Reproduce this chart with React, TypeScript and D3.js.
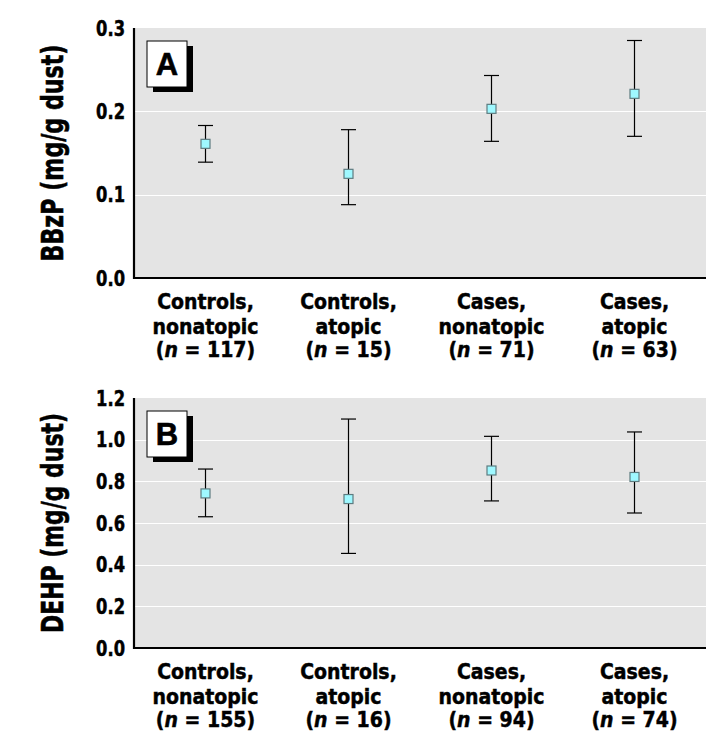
import * as d3 from "d3";
import { useEffect, useRef } from "react";

// Group labels (3 lines each: group, atopy, n)
const groups = ["Controls,", "Controls,", "Cases,", "Cases,"];
const atopy = ["nonatopic", "atopic", "nonatopic", "atopic"];
const nA = [117, 15, 71, 63];
const nB = [155, 16, 94, 74];

// Panel A: BBzP geometric mean and 95% CI
const bbzpMean = [0.161, 0.125, 0.203, 0.221];
const bbzpLow = [0.139, 0.088, 0.164, 0.17];
const bbzpHigh = [0.183, 0.178, 0.243, 0.285];
const bbzpTicks = [0, 0.1, 0.2, 0.3];

// Panel B: DEHP
const dehpMean = [0.742, 0.715, 0.852, 0.821];
const dehpLow = [0.63, 0.454, 0.706, 0.648];
const dehpHigh = [0.859, 1.099, 1.016, 1.037];
const dehpTicks = [0, 0.2, 0.4, 0.6, 0.8, 1.0, 1.2];

const FONT = "'DejaVu Sans', sans-serif";

const App = () => {
  const svgRef = useRef(null);

  useEffect(() => {
    if (!svgRef.current) return;
    const svg = d3.select(svgRef.current);
    svg.selectAll("*").remove();

    const marginLeft = 134;
    const plotRight = 706;

    const panels = [
      { top: 28, bottom: 278, letter: "A", title: "BBzP (mg/g dust)", mean: bbzpMean, low: bbzpLow, high: bbzpHigh, ticks: bbzpTicks, max: 0.3, n: nA, titleLen: 217 },
      { top: 398, bottom: 648, letter: "B", title: "DEHP (mg/g dust)", mean: dehpMean, low: dehpLow, high: dehpHigh, ticks: dehpTicks, max: 1.2, n: nB, titleLen: 220 },
    ];

    const x = d3
      .scaleBand()
      .domain(d3.range(groups.length).map(String))
      .range([marginLeft, plotRight]);

    panels.forEach((p) => {
      const y = d3.scaleLinear().domain([0, p.max]).range([p.bottom, p.top]);
      const g = svg.append("g");

      // background
      g.append("rect")
        .attr("x", marginLeft)
        .attr("y", p.top)
        .attr("width", plotRight - marginLeft)
        .attr("height", p.bottom - p.top)
        .attr("fill", "#e4e4e4");

      // grid lines
      g.selectAll("line.grid")
        .data(p.ticks.filter((t) => t > 0 && t < p.max))
        .enter()
        .append("line")
        .attr("x1", marginLeft)
        .attr("x2", plotRight)
        .attr("y1", (d) => Math.round(y(d)) + 0.5)
        .attr("y2", (d) => Math.round(y(d)) + 0.5)
        .attr("stroke", "#ffffff")
        .attr("stroke-width", 1);

      // axes
      g.append("path")
        .attr("d", `M${marginLeft},${p.top}V${p.bottom}H${plotRight}`)
        .attr("fill", "none")
        .attr("stroke", "#000")
        .attr("stroke-width", 2.2);

      // tick labels (squeezed to look like a condensed face)
      g.selectAll("g.tick")
        .data(p.ticks)
        .enter()
        .append("g")
        .attr("transform", (d) => `translate(125,${y(d)}) scale(0.76,1)`)
        .append("text")
        .attr("dy", "0.36em")
        .attr("text-anchor", "end")
        .attr("font-family", FONT)
        .attr("font-weight", "bold")
        .attr("font-size", 21.5)
        .attr("stroke", "#000")
        .attr("stroke-width", 0.5)
        .text((d) => d.toFixed(1));

      // y title, squeezed to the reference length
      const cy = (p.top + p.bottom) / 2;
      const titleG = g.append("g");
      const title = titleG
        .append("text")
        .attr("text-anchor", "middle")
        .attr("font-family", FONT)
        .attr("font-weight", "bold")
        .attr("font-size", 30)
        .attr("stroke", "#000")
        .attr("stroke-width", 0.6)
        .text(p.title);
      const natural = title.node().getComputedTextLength() || p.titleLen;
      titleG.attr("transform", `translate(63,${cy}) rotate(-90) scale(${p.titleLen / natural},1)`);

      // panel letter box with shadow
      const bx = 147;
      const by = p.top + 13;
      g.append("rect").attr("x", bx + 6).attr("y", by + 5).attr("width", 40).attr("height", 46).attr("fill", "#000");
      g.append("rect")
        .attr("x", bx)
        .attr("y", by)
        .attr("width", 40)
        .attr("height", 46)
        .attr("fill", "#fff")
        .attr("stroke", "#000")
        .attr("stroke-width", 1);
      g.append("text")
        .attr("x", bx + 20)
        .attr("y", by + 34)
        .attr("text-anchor", "middle")
        .attr("font-family", "'Liberation Sans', Arial, sans-serif")
        .attr("font-weight", "bold")
        .attr("font-size", 31)
        .attr("stroke", "#000")
        .attr("stroke-width", 0.6)
        .text(p.letter);

      // error bars
      const cx = (i) => x(String(i)) + x.bandwidth() / 2;
      const bars = g.selectAll("g.bar").data(p.mean).enter().append("g");
      bars.append("line")
        .attr("x1", (_d, i) => cx(i))
        .attr("x2", (_d, i) => cx(i))
        .attr("y1", (_d, i) => y(p.low[i]))
        .attr("y2", (_d, i) => y(p.high[i]))
        .attr("stroke", "#000")
        .attr("stroke-width", 1.2);
      [p.low, p.high].forEach((arr) => {
        bars.append("line")
          .attr("x1", (_d, i) => cx(i) - 7.5)
          .attr("x2", (_d, i) => cx(i) + 7.5)
          .attr("y1", (_d, i) => y(arr[i]))
          .attr("y2", (_d, i) => y(arr[i]))
          .attr("stroke", "#000")
          .attr("stroke-width", 1.2);
      });
      bars.append("rect")
        .attr("x", (_d, i) => cx(i) - 4.5)
        .attr("y", (d) => y(d) - 4.5)
        .attr("width", 9)
        .attr("height", 9)
        .attr("fill", "#9ff8ff")
        .attr("stroke", "#5e7c80")
        .attr("stroke-width", 1.2);

      // category labels
      const labels = g.selectAll("g.cat").data(groups).enter().append("g")
        .attr("transform", (_d, i) => `translate(${cx(i)},${p.bottom}) scale(0.88,1)`)
        .append("text")
        .attr("text-anchor", "middle")
        .attr("font-family", FONT)
        .attr("font-weight", "bold")
        .attr("font-size", 21.5)
        .attr("stroke", "#000")
        .attr("stroke-width", 0.5);
      labels.append("tspan").attr("x", 0).attr("y", 31).text((d) => d);
      labels.append("tspan").attr("x", 0).attr("y", 56).text((_d, i) => atopy[i]);
      const third = labels.append("tspan").attr("x", 0).attr("y", 79);
      third.append("tspan").text("(");
      third.append("tspan").attr("font-style", "italic").text("n");
      third.append("tspan").text((_d, i) => ` = ${p.n[i]})`);
    });
  }, []);

  return (
    <svg
      ref={svgRef}
      width={724}
      height={748}
      style={{ position: "absolute", left: 0, top: 0, background: "#fff" }}
    />
  );
};

export default App;
